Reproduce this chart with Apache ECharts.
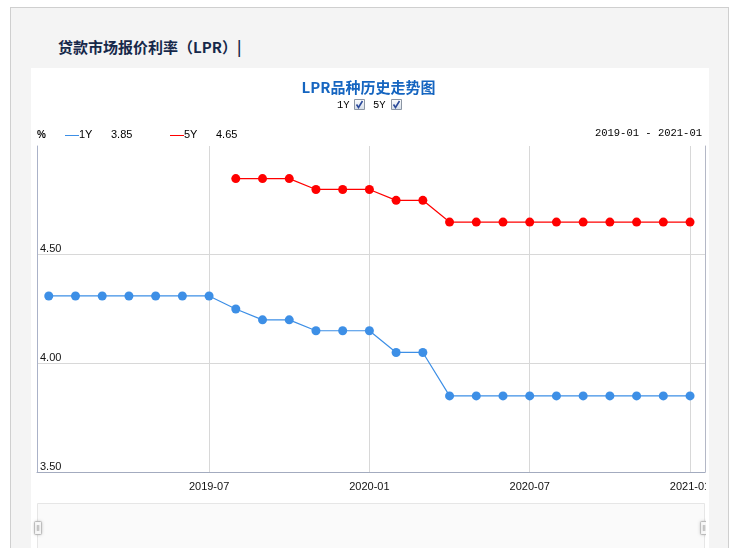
<!DOCTYPE html>
<html><head><meta charset="utf-8">
<script src="https://cdn.jsdelivr.net/npm/echarts@6/dist/echarts.min.js"></script>
<style>
html,body{margin:0;padding:0;background:#fff;width:732px;height:548px;overflow:hidden;}
#box{position:absolute;left:10px;top:7px;width:717px;height:560px;background:#f4f4f4;border:1px solid #cfcfcf;}
#head{position:absolute;left:58px;top:37px;font:bold 15px "Noto Sans CJK SC";color:#16284a;line-height:20px;white-space:nowrap;}
#panel{position:absolute;left:31px;top:68px;width:678px;height:500px;background:#fff;}
#chart{position:absolute;left:31px;top:68px;width:675px;height:480px;}
</style></head><body>
<div id="box"></div>
<div id="head">贷款市场报价利率（LPR）|</div>
<div id="panel"></div>
<div id="chart"></div>
<script>
// ---- data ----
const months = ['2019-01','2019-02','2019-03','2019-04','2019-05','2019-06','2019-07','2019-08','2019-09','2019-10','2019-11','2019-12',
                '2020-01','2020-02','2020-03','2020-04','2020-05','2020-06','2020-07','2020-08','2020-09','2020-10','2020-11','2020-12','2021-01'];
const rate1Y = [4.31,4.31,4.31,4.31,4.31,4.31,4.31,4.25,4.20,4.20,4.15,4.15,4.15,4.05,4.05,3.85,3.85,3.85,3.85,3.85,3.85,3.85,3.85,3.85,3.85];
const rate5Y = [null,null,null,null,null,null,null,4.85,4.85,4.85,4.80,4.80,4.80,4.75,4.75,4.65,4.65,4.65,4.65,4.65,4.65,4.65,4.65,4.65,4.65];
const seriesNames = ['1Y','5Y'];
const seriesColors = ['#3d8fe6','#ff0000'];
const xTickLabels = ['2019-07','2020-01','2020-07','2021-01'];
const yTickLabels = ['3.50','4.00','4.50'];
const chartTitle = 'LPR品种历史走势图';
const unitLabel = '%';

// ---- build ----
const allRates = [rate1Y, rate5Y];
const toPairs = arr => arr.map((v,i)=>[i,v]).filter(d=>d[1]!=null);
const lastVal = arr => { for (let i=arr.length-1;i>=0;i--) if (arr[i]!=null) return arr[i]; return null; };
const xTickIdx = xTickLabels.map(m => months.indexOf(m));
const yVals = yTickLabels.map(Number);
const yStep = yVals[1]-yVals[0];

const graphic = [];
// checkbox row
seriesNames.forEach((n,k)=>{
  const bx = 323 + k*37, tx = 306 + k*36;
  graphic.push({type:'text', x:tx, y:37, style:{text:n, fontFamily:'Liberation Mono', fontSize:10.5, fill:'#000', align:'left', verticalAlign:'middle'}});
  graphic.push({type:'rect', shape:{x:bx+0.5,y:31.5,width:10,height:10},
    style:{fill:{type:'linear',x:0,y:0,x2:0,y2:1,colorStops:[{offset:0,color:'#ffffff'},{offset:1,color:'#d3dce8'}]}, stroke:'#8c96a4', lineWidth:1}});
  graphic.push({type:'polyline', shape:{points:[[bx+2.5,36.5],[bx+4.5,39.5],[bx+8.5,33]]}, style:{stroke:'#2b4a9a', lineWidth:1.6, fill:null}});
});
// legend row
graphic.push({type:'text', x:6, y:67, style:{text:unitLabel, fontFamily:'Liberation Sans', fontWeight:'bold', fontSize:10, fill:'#000', verticalAlign:'middle'}});
seriesNames.forEach((n,k)=>{
  const x0 = 34 + k*105;
  graphic.push({type:'rect', shape:{x:x0,y:67,width:14,height:1}, style:{fill:seriesColors[k]}});
  graphic.push({type:'text', x:x0+14, y:67, style:{text:n, fontFamily:'Liberation Sans', fontSize:11, fill:'#000', verticalAlign:'middle'}});
  graphic.push({type:'text', x:x0+46, y:67, style:{text:lastVal(allRates[k]).toFixed(2), fontFamily:'Liberation Sans', fontSize:11, fill:'#000', verticalAlign:'middle'}});
});
graphic.push({type:'text', x:671, y:65, style:{text:months[0]+' - '+months[months.length-1], fontFamily:'Liberation Mono', fontSize:10.5, fill:'#000', align:'right', verticalAlign:'middle'}});

const chart = echarts.init(document.getElementById('chart'), null, {renderer:'canvas'});
chart.setOption({
  animation:false,
  backgroundColor:'transparent',
  title:{text:chartTitle, left:'center', top:12, padding:0,
    textStyle:{color:'#1565c0', fontSize:15, fontWeight:'bold', fontFamily:'Noto Sans CJK SC'}},
  graphic: graphic,
  grid:{left:6, top:78, width:668, height:326, containLabel:false, outerBoundsMode:'none'},
  xAxis:{type:'value', min:-0.44, max:24.56,
    axisLine:{show:true, onZero:false, lineStyle:{color:'#a3abbf', width:1}},
    axisTick:{show:false, customValues:xTickIdx},
    axisLabel:{customValues:xTickIdx, formatter:v=>months[Math.round(v)], color:'#111', fontSize:11, fontFamily:'Liberation Sans', margin:9},
    splitLine:{show:true, lineStyle:{color:'#d8d8d8', width:1}}
  },
  yAxis:[{type:'value', min:yVals[0], max:yVals[yVals.length-1]+yStep, interval:yStep, position:'left',
    axisLine:{show:true, onZero:false, lineStyle:{color:'#aab2c8'}},
    axisTick:{show:false},
    axisLabel:{inside:true, margin:3, verticalAlign:'bottom', showMaxLabel:false, color:'#111', fontSize:11, fontFamily:'Liberation Sans',
      formatter:v=>v.toFixed(2)},
    splitLine:{show:true, showMaxLine:false, showMinLine:false, lineStyle:{color:'#d8d8d8'}}
  },{type:'value', min:yVals[0], max:yVals[yVals.length-1]+yStep, interval:yStep, position:'right',
    axisLine:{show:true, onZero:false, lineStyle:{color:'#b4b8c6'}},
    axisTick:{show:false}, axisLabel:{show:false}, splitLine:{show:false}
  }],
  dataZoom:[{type:'slider', xAxisIndex:0, left:5, width:668, top:435, height:50, start:0, end:100,
    filterMode:'none', showDetail:false, showDataShadow:false, brushSelect:false, moveHandleSize:0, realtime:false,
    backgroundColor:'#fafafa', borderColor:'#e6e6e6', fillerColor:'rgba(0,0,0,0)',
    handleIcon:'path://M1,0h5a1,1,0,0,1,1,1v11a1,1,0,0,1,-1,1h-5a1,1,0,0,1,-1,-1v-11a1,1,0,0,1,1,-1z M2.8,3.5V9.5 M4.2,3.5V9.5',
    handleSize:13,
    handleStyle:{color:'#fff', borderColor:'#bbbbbb', borderWidth:1, shadowBlur:3, shadowColor:'rgba(0,0,0,0.15)'},
    dataBackground:{lineStyle:{opacity:0}, areaStyle:{opacity:0}},
    selectedDataBackground:{lineStyle:{opacity:0}, areaStyle:{opacity:0}}
  }],
  series: seriesNames.map((n,k)=>({
    name:n, type:'line', xAxisIndex:0, yAxisIndex:0, data:toPairs(allRates[k]),
    symbol:'circle', symbolSize:9, showSymbol:true,
    lineStyle:{color:seriesColors[k], width:1.2},
    itemStyle:{color:seriesColors[k]}
  }))
});
</script>
</body></html>
